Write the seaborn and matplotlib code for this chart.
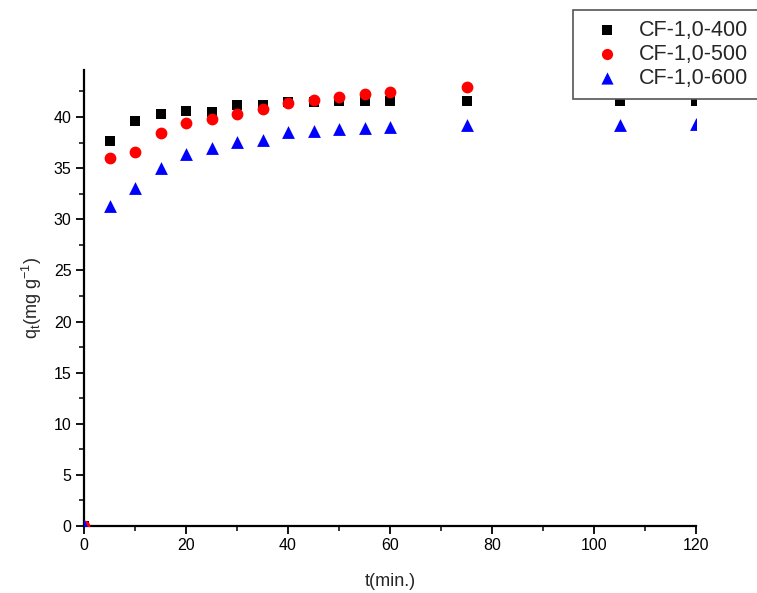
import numpy as np
import pandas as pd
import matplotlib
matplotlib.use("Agg")
import matplotlib.pyplot as plt
from matplotlib.ticker import MultipleLocator
import seaborn as sns

t = [0, 5, 10, 15, 20, 25, 30, 35, 40, 45, 50, 55, 60, 75, 105, 120]
q_400 = [0, 37.7, 39.6, 40.3, 40.6, 40.5, 41.2, 41.2, 41.5, 41.5, 41.6, 41.6, 41.6, 41.6, 41.6, 41.6]
q_500 = [0, 36.0, 36.6, 38.4, 39.4, 39.8, 40.3, 40.8, 41.4, 41.7, 42.0, 42.3, 42.4, 42.9, 43.0, 43.1]
q_600 = [0, 31.3, 33.1, 35.0, 36.4, 37.0, 37.6, 37.8, 38.5, 38.6, 38.8, 38.9, 39.0, 39.2, 39.2, 39.3]
series = ["CF-1,0-400", "CF-1,0-500", "CF-1,0-600"]

df = pd.concat([
    pd.DataFrame({"t": t, "q": q, "serie": s})
    for q, s in zip([q_400, q_500, q_600], series)
], ignore_index=True)

sns.set_style("ticks")
plt.rcParams["font.family"] = ["Liberation Sans", "DejaVu Sans"]
plt.rcParams["mathtext.fontset"] = "custom"
plt.rcParams["mathtext.rm"] = "Liberation Sans"

fig = plt.figure(figsize=(7.57, 5.93), dpi=100)
ax = fig.add_axes([84/757, 67/593, (696-84)/757, (526-70)/593])

palette = {"CF-1,0-400": "black", "CF-1,0-500": "#ff0000", "CF-1,0-600": "#0000ff"}
markers = {"CF-1,0-400": "s", "CF-1,0-500": "o", "CF-1,0-600": "^"}
sizes = {"CF-1,0-400": 60, "CF-1,0-500": 72, "CF-1,0-600": 85}
for s in series:
    sub = df[df.serie == s]
    sns.scatterplot(data=sub, x="t", y="q", color=palette[s], marker=markers[s],
                    s=sizes[s], linewidth=0, ax=ax, label=s, zorder=3)

ax.set_xlim(0, 120)
ax.set_ylim(0, 44.6)
ax.xaxis.set_major_locator(MultipleLocator(20))
ax.xaxis.set_minor_locator(MultipleLocator(10))
ax.yaxis.set_major_locator(MultipleLocator(5))
ax.yaxis.set_minor_locator(MultipleLocator(2.5))
ax.tick_params(which="major", direction="out", length=6, width=1.3, labelsize=11.5, colors="black", pad=3)
ax.tick_params(which="minor", direction="out", length=3.5, width=1.3)
for sp in ["top", "right"]:
    ax.spines[sp].set_visible(False)
for sp in ["left", "bottom"]:
    ax.spines[sp].set_linewidth(1.6)
    ax.spines[sp].set_color("black")

ax.set_xlabel("t(min.)", fontsize=13, labelpad=14)
ax.set_ylabel(r"q$_\mathregular{t}$(mg g$^\mathregular{-1}$)", fontsize=13, labelpad=7)

handles, labels = ax.get_legend_handles_labels()
ax.get_legend().remove()
leg = fig.legend(handles, labels, loc="upper left", bbox_to_anchor=(573/757, 1 - 10/593),
                 borderaxespad=0, fontsize=15.5, frameon=True, fancybox=False, framealpha=1,
                 edgecolor="#555555", borderpad=0.45, labelspacing=0.15,
                 handletextpad=0.3, handlelength=2.3, markerscale=0.95)
leg.get_frame().set_linewidth(1.2)
leg.set_zorder(10)

fig.savefig("out.png", dpi=100)
